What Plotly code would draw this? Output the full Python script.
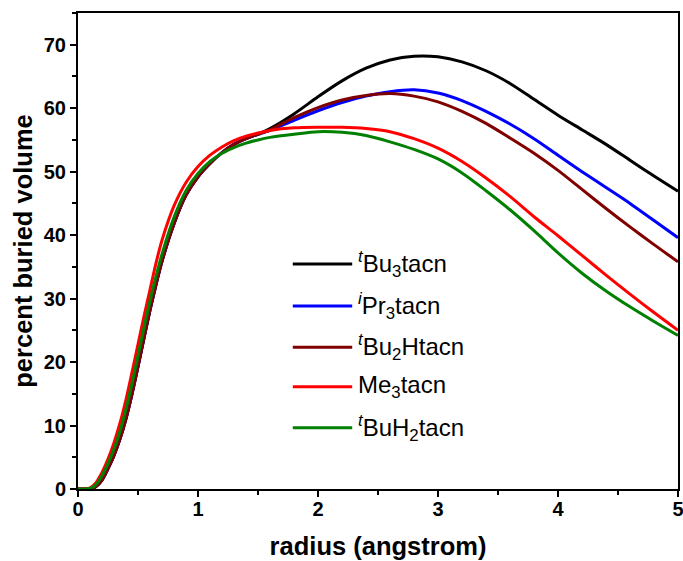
import plotly.graph_objects as go

radius = [0, 0.05, 0.1, 0.15, 0.2, 0.25, 0.3, 0.35, 0.4, 0.45, 0.5, 0.55, 0.6, 0.65, 0.7,
          0.8, 0.9, 1.0, 1.1, 1.2, 1.3, 1.4, 1.5, 1.6, 1.8, 2.0, 2.2, 2.4, 2.6, 2.8, 3.0,
          3.2, 3.4, 3.6, 3.8, 4.0, 4.2, 4.4, 4.6, 4.8, 5.0]

rise_common = [0, 0, 0.05, 0.4, 1.4, 3.2, 5.3, 7.9, 11.1, 15.0, 19.3, 23.8, 28.2, 32.2, 35.9,
               41.8, 46.3, 49.2, 51.3, 53.0, 54.3, 55.2, 55.9]

tBu3tacn = rise_common + [56.8, 59.1, 61.8, 64.3, 66.3, 67.6, 68.2, 68.1,
                          67.3, 65.9, 63.9, 61.4, 58.9, 56.6, 54.3, 51.8, 49.3, 46.9]
iPr3tacn = rise_common + [56.5, 58.1, 59.6, 60.9, 61.9, 62.6, 62.9, 62.4,
                          61.2, 59.5, 57.5, 55.2, 52.6, 50.0, 47.5, 45.0, 42.3, 39.6]
tBu2Htacn = rise_common + [56.6, 58.5, 60.1, 61.3, 62.0, 62.3, 61.9, 61.0,
                           59.5, 57.6, 55.3, 52.9, 50.2, 47.2, 44.2, 41.3, 38.5, 35.8]
Me3tacn = [0, 0, 0.2, 1.0, 2.6, 4.7, 7.3, 10.4, 14.1, 18.4, 22.8, 27.2, 31.4, 35.6, 39.2,
           44.6, 48.3, 50.8, 52.6, 53.9, 54.9, 55.6, 56.1, 56.5, 56.9, 57.0, 57.0, 56.8,
           56.3, 55.2, 53.7, 51.6, 49.0, 46.1, 42.9, 39.9, 36.8, 33.7, 30.7, 27.8, 25.0]
tBuH2tacn = [0, 0, 0.1, 0.7, 2.1, 4.0, 6.3, 9.1, 12.6, 16.6, 21.0, 25.4, 29.6, 33.5, 37.0,
             42.8, 47.0, 49.7, 51.6, 52.9, 53.8, 54.5, 55.0, 55.4, 55.9, 56.3, 56.2, 55.7,
             54.7, 53.5, 52.0, 49.8, 47.0, 44.0, 40.7, 37.2, 34.0, 31.2, 28.7, 26.4, 24.2]

series_names = ["<sup><i>t</i></sup>Bu<sub>3</sub>tacn",
                "<sup><i>i</i></sup>Pr<sub>3</sub>tacn",
                "<sup><i>t</i></sup>Bu<sub>2</sub>Htacn",
                "Me<sub>3</sub>tacn",
                "<sup><i>t</i></sup>BuH<sub>2</sub>tacn"]
series_values = [tBu3tacn, iPr3tacn, tBu2Htacn, Me3tacn, tBuH2tacn]
series_colors = ["#000000", "#0000FF", "#800000", "#FF0000", "#008000"]

x_ticks = [0, 1, 2, 3, 4, 5]
y_ticks = [0, 10, 20, 30, 40, 50, 60, 70]

FONT = "Arial, 'Liberation Sans', sans-serif"

fig = go.Figure()
for name, vals, col in zip(series_names, series_values, series_colors):
    fig.add_trace(go.Scatter(x=radius, y=vals, mode="lines", name=name,
                             line=dict(color=col, width=3, shape="spline", smoothing=0.8),
                             showlegend=False, hoverinfo="skip"))

# manual legend
leg_y = [0.4727, 0.3845, 0.2977, 0.2149, 0.1288]
for name, col, yy in zip(series_names, series_colors, leg_y):
    fig.add_shape(type="line", xref="paper", yref="paper", x0=0.358, x1=0.457, y0=yy, y1=yy,
                  line=dict(color=col, width=3))
    fig.add_annotation(xref="paper", yref="paper", x=0.464, y=yy, text=name, showarrow=False,
                       xanchor="left", yanchor="middle", font=dict(family=FONT, size=24, color="black"))

axis_common = dict(showline=True, linewidth=2, linecolor="black", mirror=True,
                   ticks="outside", ticklen=6, tickwidth=2, tickcolor="black",
                   showgrid=False, zeroline=False, automargin=False,
                   ticklabeloverflow="allow",
                   tickfont=dict(family=FONT, size=20, color="black", weight="bold"))

fig.update_xaxes(range=[0, 5], tickvals=x_ticks, ticktext=[str(v) for v in x_ticks],
                 minor=dict(ticks="outside", ticklen=4, tickwidth=2, tickcolor="black", dtick=0.5, tick0=0),
                 ticklabelstandoff=-5,
                 title=dict(text="radius (angstrom)", font=dict(family=FONT, size=25.5, color="black", weight="bold"), standoff=18),
                 **axis_common)
fig.update_yaxes(range=[0, 75], tickvals=y_ticks, ticktext=[str(v) for v in y_ticks],
                 minor=dict(ticks="outside", ticklen=4, tickwidth=2, tickcolor="black", dtick=5, tick0=0),
                 title=dict(text="percent buried volume", font=dict(family=FONT, size=25.5, color="black", weight="bold"), standoff=4),
                 **axis_common)

fig.update_layout(width=683, height=561, margin=dict(l=78, r=5, t=13, b=72),
                  paper_bgcolor="white", plot_bgcolor="white", showlegend=False)

fig.write_html("out.html", config={"displayModeBar": False},
               post_script="document.body.style.margin='0';document.body.style.overflow='hidden';")
